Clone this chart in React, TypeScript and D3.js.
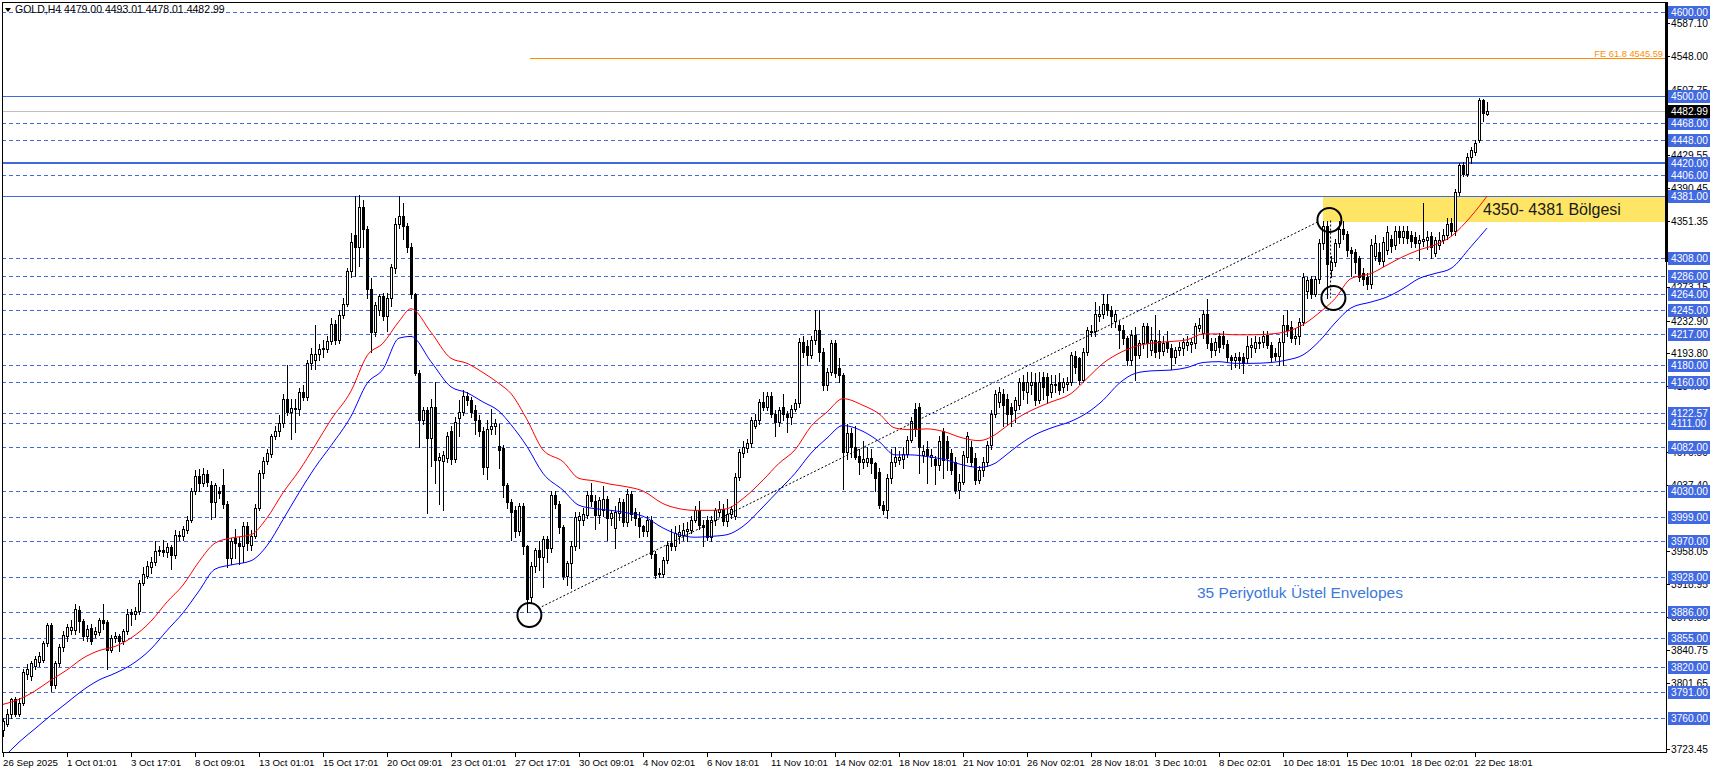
import React from "react";
import * as d3 from "d3";

// ---------- DATA ----------
const opens = [
  3745,3753,3764,3782,3765,3778,3812,3810,3822,3826,
  3829,3849,3870,3799,3825,3844,3857,3864,3864,3888,
  3875,3857,3867,3860,3862,3876,3874,3841,3855,3857,
  3852,3863,3886,3883,3887,3921,3929,3940,3946,3958,
  3960,3957,3963,3954,3978,3976,3984,3996,4030,4048,
  4039,4050,4037,4017,4030,4037,4015,3950,3974,3968,
  3965,3988,3966,3977,4010,4052,4066,4074,4095,4102,
  4111,4140,4124,4129,4128,4148,4142,4183,4186,4193,
  4199,4199,4209,4229,4210,4240,4253,4292,4335,4320,
  4368,4342,4271,4219,4245,4262,4238,4260,4295,4348,
  4357,4346,4320,4264,4171,4115,4126,4093,4130,4067,
  4066,4069,4102,4068,4117,4124,4143,4138,4126,4115,
  4102,4059,4104,4108,4084,4081,4037,4017,4007,3982,
  4012,3964,3904,3941,3960,3952,3973,3962,4025,4015,
  3987,3929,3944,3964,3995,3996,4002,4025,4018,4001,
  4008,4020,3998,3986,4004,4017,3993,4027,4005,3998,
  3988,3982,3995,3955,3932,3931,3948,3968,3965,3976,
  3978,3982,3984,3996,4008,3990,3995,3975,3995,4005,
  4009,3994,4003,4000,4047,4075,4081,4087,4108,4115,
  4136,4130,4143,4122,4112,4130,4122,4118,4128,4135,
  4208,4203,4192,4210,4222,4196,4156,4172,4206,4176,
  4168,4077,4099,4083,4072,4065,4065,4069,4063,4053,
  4013,4007,4045,4065,4067,4068,4074,4091,4128,4130,
  4073,4080,4071,4068,4061,4101,4089,4075,4065,4031,
  4041,4071,4083,4069,4043,4055,4065,4085,4122,4136,
  4146,4140,4130,4126,4132,4160,4148,4156,4160,4138,
  4166,4166,4148,4156,4160,4154,4157,4160,4191,4188,
  4162,4196,4220,4220,4238,4241,4253,4245,4233,4228,
  4222,4212,4186,4216,4192,4206,4226,4198,4210,4209,
  4197,4207,4200,4190,4198,4200,4204,4205,4206,4224,
  4218,4241,4206,4198,4215,4215,4205,4190,4186,4190,
  4190,4188,4201,4200,4207,4208,4216,4204,4194,4191,
  4207,4228,4225,4212,4215,4231,4268,4283,4265,4282,
  4325,4345,4293,4303,4325,4342,4336,4317,4315,4307,
  4289,4285,4277,4310,4315,4304,4317,4330,4323,4339,
  4333,4339,4335,4333,4325,4328,4329,4334,4313,4323,
  4329,4335,4349,4339,4386,4418,4408,4428,4434,4448,
  4495,4479.00,
];
const highs = [
  3760,3770,3784,3785,3784,3818,3824,3828,3834,3838,
  3852,3873,3873,3828,3848,3863,3872,3876,3896,3893,
  3878,3870,3872,3868,3879,3896,3876,3858,3862,3860,
  3866,3890,3890,3892,3924,3940,3947,3952,3970,3964,
  3972,3968,3966,3984,3982,3988,4000,4034,4055,4056,
  4058,4055,4042,4040,4035,4056,4018,3974,3985,3975,
  3993,3993,3984,4014,4055,4070,4080,4098,4108,4120,
  4145,4180,4140,4140,4153,4156,4186,4200,4228,4205,
  4210,4214,4236,4234,4245,4260,4296,4337,4381,4382,
  4376,4346,4284,4255,4265,4266,4266,4300,4355,4381,
  4373,4349,4325,4266,4174,4130,4130,4140,4160,4075,
  4078,4100,4108,4118,4138,4150,4148,4142,4132,4120,
  4106,4115,4128,4116,4110,4085,4040,4020,4012,4016,
  4016,3966,3945,3962,3970,3977,3977,4030,4030,4018,
  3990,3947,3970,4005,4005,4010,4030,4040,4025,4023,
  4036,4024,4008,4012,4022,4020,4032,4030,4010,4005,
  3990,4000,4000,3958,3938,3952,3970,3985,3988,3990,
  3992,3993,4000,4012,4018,3995,4000,4000,4010,4018,
  4015,4020,4012,4052,4080,4090,4092,4118,4122,4140,
  4148,4148,4148,4126,4130,4146,4125,4132,4140,4212,
  4215,4210,4215,4245,4245,4200,4176,4210,4210,4188,
  4170,4110,4105,4108,4080,4090,4083,4080,4065,4058,
  4018,4050,4080,4082,4078,4082,4095,4118,4135,4135,
  4085,4090,4080,4072,4095,4105,4095,4080,4070,4050,
  4078,4100,4090,4075,4060,4070,4090,4126,4150,4154,
  4152,4146,4135,4142,4165,4168,4172,4172,4170,4172,
  4172,4170,4168,4168,4170,4165,4166,4196,4197,4190,
  4200,4225,4228,4255,4250,4265,4265,4250,4246,4232,
  4228,4215,4222,4225,4210,4230,4230,4225,4240,4222,
  4215,4220,4205,4202,4208,4212,4214,4212,4230,4236,
  4245,4259,4212,4212,4218,4220,4210,4192,4194,4195,
  4194,4215,4212,4215,4213,4220,4220,4208,4200,4212,
  4240,4245,4232,4224,4236,4290,4285,4286,4286,4330,
  4352,4352,4310,4330,4352,4352,4340,4320,4318,4310,
  4295,4290,4330,4335,4325,4332,4345,4335,4345,4345,
  4345,4345,4340,4338,4335,4373,4340,4338,4332,4338,
  4342,4355,4355,4390,4420,4422,4433,4440,4448,4498,
  4497,4493.01,
];
const lows = [
  3738,3750,3760,3762,3762,3775,3806,3805,3818,3822,
  3826,3846,3792,3796,3822,3840,3852,3860,3860,3862,
  3853,3852,3848,3856,3858,3866,3818,3838,3850,3840,
  3848,3860,3870,3878,3884,3918,3926,3932,3942,3954,
  3953,3952,3937,3950,3972,3972,3980,3993,4026,4030,
  4036,4036,3997,3999,4022,4010,3940,3943,3950,3943,
  3946,3960,3960,3974,4007,4045,4062,4070,4092,4096,
  4106,4120,4092,4100,4120,4138,4138,4175,4175,4186,
  4190,4195,4205,4205,4206,4236,4250,4285,4286,4298,
  4320,4260,4195,4215,4240,4234,4220,4250,4290,4343,
  4330,4315,4260,4168,4082,4110,4004,4060,4040,4015,
  4008,4065,4062,4064,4095,4120,4132,4118,4098,4096,
  4050,4044,4098,4098,4057,4023,4010,3972,3975,3978,
  3955,3886,3898,3934,3936,3916,3945,3957,4010,3980,
  3925,3918,3915,3960,3962,3990,3998,4012,3985,3992,
  4000,3972,3990,3962,3996,3988,3988,3995,3990,3975,
  3976,3977,3950,3927,3928,3928,3944,3960,3960,3968,
  3972,3970,3980,3993,3985,3965,3972,3971,3990,4000,
  3990,3988,3998,3997,4043,4070,4077,4082,4105,4110,
  4126,4126,4118,4096,4108,4115,4100,4110,4125,4130,
  4190,4180,4188,4205,4185,4150,4150,4168,4166,4160,
  4032,4068,4070,4068,4050,4058,4060,4052,4030,4010,
  4003,3998,4040,4060,4062,4058,4070,4088,4095,4051,
  4065,4040,4060,4038,4055,4045,4055,4050,4028,4022,
  4038,4065,4060,4038,4040,4048,4060,4080,4118,4130,
  4108,4110,4108,4112,4128,4140,4135,4145,4132,4135,
  4140,4135,4142,4148,4145,4148,4150,4156,4170,4158,
  4160,4192,4215,4215,4232,4236,4240,4225,4225,4200,
  4205,4180,4180,4162,4188,4200,4190,4192,4190,4188,
  4192,4195,4175,4182,4192,4192,4198,4195,4200,4220,
  4212,4200,4190,4192,4195,4200,4185,4175,4178,4176,
  4170,4182,4190,4195,4200,4202,4200,4185,4186,4180,
  4180,4215,4208,4205,4205,4228,4260,4260,4262,4278,
  4318,4260,4285,4298,4320,4330,4310,4286,4290,4280,
  4275,4270,4272,4305,4300,4298,4312,4315,4318,4325,
  4325,4325,4320,4320,4305,4322,4318,4308,4310,4318,
  4325,4330,4335,4335,4383,4405,4405,4420,4430,4445,
  4470,4478.01,
];
const closes = [
  3756,3764,3782,3765,3778,3815,3818,3825,3830,3834,
  3849,3870,3799,3825,3844,3859,3868,3868,3890,3875,
  3857,3866,3852,3863,3876,3873,3841,3855,3857,3852,
  3863,3884,3883,3887,3921,3931,3941,3946,3958,3960,
  3957,3963,3954,3978,3976,3985,3996,4030,4048,4039,
  4050,4041,4017,4037,4028,4015,3950,3970,3968,3965,
  3988,3968,3977,4010,4052,4066,4075,4095,4102,4111,
  4140,4124,4129,4128,4148,4142,4183,4193,4193,4199,
  4200,4209,4229,4210,4240,4253,4292,4326,4320,4368,
  4342,4271,4219,4251,4262,4238,4260,4297,4348,4357,
  4346,4320,4264,4171,4115,4126,4093,4130,4067,4070,
  4073,4095,4068,4112,4124,4143,4138,4124,4115,4102,
  4059,4104,4108,4111,4079,4037,4017,4005,3982,4012,
  3964,3902,3941,3960,3952,3973,3962,4025,4015,3987,
  3929,3944,3964,3999,4000,4003,4025,4018,4001,4019,
  4020,3998,4004,4005,4017,3993,4027,4003,3998,3988,
  3982,3995,3955,3930,3931,3948,3966,3965,3980,3981,
  3983,3985,3996,4008,3989,3987,3975,3995,4007,4009,
  3994,4003,4009,4047,4076,4083,4087,4115,4115,4136,
  4130,4143,4122,4112,4126,4122,4118,4128,4135,4208,
  4196,4192,4210,4222,4196,4156,4172,4206,4170,4168,
  4077,4099,4083,4071,4065,4068,4069,4063,4045,4013,
  4007,4045,4065,4071,4071,4074,4091,4113,4104,4083,
  4078,4073,4073,4061,4089,4067,4069,4055,4031,4041,
  4073,4095,4065,4043,4055,4065,4085,4122,4146,4148,
  4132,4122,4122,4138,4160,4150,4160,4160,4138,4160,
  4154,4144,4158,4158,4150,4160,4160,4192,4178,4162,
  4196,4222,4221,4241,4241,4253,4245,4238,4241,4222,
  4212,4186,4216,4192,4206,4226,4206,4210,4196,4197,
  4206,4200,4190,4198,4202,4208,4208,4207,4226,4228,
  4241,4206,4198,4208,4202,4205,4190,4186,4190,4186,
  4182,4203,4204,4208,4208,4215,4204,4190,4191,4207,
  4228,4222,4212,4215,4231,4285,4281,4265,4282,4325,
  4345,4300,4303,4325,4342,4336,4317,4313,4303,4285,
  4283,4277,4323,4325,4304,4327,4338,4322,4339,4333,
  4339,4331,4328,4325,4329,4330,4332,4321,4329,4329,
  4335,4348,4339,4386,4418,4408,4428,4436,4444,4495,
  4480,4482.99,
];

const envBars = [0,4,8,12,16,20,24,28,32,37,41,45,49,53,57,62,66,70,74,78,82,87,91,95,99,102,107,112,116,120,124,127,131,135,140,144,148,152,156,160,165,169,173,177,181,185,190,194,198,202,206,210,215,219,223,227,231,235,240,244,248,250,254,258,262,267,271,275,279,283,287,292,296,300,304,308,312,317,321,325,329,333,337,342,346,350,354,358,362,367,371];
const upperEnv = [3776,3782,3792,3805,3817,3831,3840,3845,3855,3875,3898,3918,3946,3968,3974,3978,3998,4028,4054,4084,4115,4149,4191,4206,4232,4247,4219,4188,4182,4171,4158,4146,4115,4079,4065,4045,4042,4038,4035,4030,4015,4009,4007,4007,4009,4021,4043,4063,4079,4107,4124,4140,4132,4122,4105,4103,4104,4101,4093,4090,4097,4104,4118,4128,4136,4146,4164,4182,4194,4202,4206,4208,4210,4217,4217,4216,4216,4217,4220,4228,4242,4259,4283,4289,4299,4309,4317,4323,4333,4357,4381];
const lowerEnv = [3712,3731,3747,3763,3778,3793,3805,3813,3823,3842,3864,3885,3911,3937,3942,3947,3965,3996,4028,4058,4084,4119,4158,4175,4212,4214,4184,4154,4147,4136,4125,4109,4083,4051,4031,4013,4009,4007,4004,4000,3986,3978,3975,3976,3978,3988,4011,4031,4051,4075,4093,4108,4101,4089,4073,4073,4071,4068,4061,4058,4063,4070,4085,4097,4105,4113,4123,4138,4158,4170,4173,4174,4177,4183,4184,4182,4182,4183,4186,4192,4208,4230,4248,4255,4261,4271,4283,4289,4295,4321,4343];

const timeLabels = ["26 Sep 2025","1 Oct 01:01","3 Oct 17:01","8 Oct 09:01","13 Oct 01:01","15 Oct 17:01","20 Oct 09:01","23 Oct 01:01","27 Oct 17:01","30 Oct 09:01","4 Nov 02:01","6 Nov 18:01","11 Nov 10:01","14 Nov 02:01","18 Nov 18:01","21 Nov 10:01","26 Nov 02:01","28 Nov 18:01","3 Dec 10:01","8 Dec 02:01","10 Dec 18:01","15 Dec 10:01","18 Dec 02:01","22 Dec 18:01"];
const barsPerTimeLabel = 16;

// automatic price-scale labels that peek out from behind the level labels
const priceTicks = [4587.10,4548.00,4507.75,4429.55,4390.45,4351.35,4273.15,4232.90,4193.80,4154.70,4076.50,4037.40,3958.05,3918.95,3879.85,3840.75,3801.65,3723.45];

const dashedLevels = [4600,4468,4448,4406,4308,4286,4264,4245,4217,4180,4160,4122.57,4111,4082,4030,3999,3970,3928,3886,3855,3820,3791,3760];
const solidLevels = [4500,4381];
const thickLevels = [4420];
const markedLevels = [4600,4500,4468,4448,4420,4406,4381,4308,4286,4264,4245,4217,4180,4160,4122.57,4111,4082,4030,3999,3970,3928,3886,3855,3820,3791,3760];
const lastPrice = 4482.99;

const feLevel = 4545.59;
const feStartBar = 131.75;
const zoneLow = 4350;
const zoneHigh = 4381;
const zoneStartBar = 330;
const trendStart = [134.7, 3892.3];
const trendEnd = [328.8, 4350.6];
const swingLeg = [331.9, 4352, 4260];
const circleMarks = [[131.6, 3882.4], [331.6, 4352.7], [332.6, 4259.8]];

const titleText = "GOLD,H4  4479.00 4493.01 4478.01 4482.99";

export default function App() {
  const W = 1712, H = 773;
  const L = 2, R = 1666, T = 2, B = 752;
  const x = d3.scaleLinear().domain([0, closes.length - 1]).range([3, 1487]);
  const y = d3.scaleLinear().domain([3719.3, 4614.57]).range([B, 0]);
  const sy = (p: number) => Math.round(y(p)) + 0.5;
  const font = "'Liberation Sans', Arial, sans-serif";
  const blue = "#4169e1";
  const priceFs = 10.2;
  const timeFs = 9.7;

  const bandLine = d3.line<number>().x((_, i) => x(envBars[i])).y((d) => y(d)).curve(d3.curveMonotoneX);

  return (
    <svg width={W} height={H} style={{ position: "absolute", left: 0, top: 0, background: "#fff", display: "block" }} fontFamily={font}>
      <defs>
        <clipPath id="plot"><rect x={L} y={T} width={R - L} height={B - T} /></clipPath>
      </defs>
      <rect x={0} y={0} width={W} height={H} fill="#fff" />
      <g clipPath="url(#plot)">
        {/* zone */}
        <rect x={Math.round(x(zoneStartBar))} y={Math.round(y(zoneHigh))} width={R - Math.round(x(zoneStartBar))} height={Math.round(y(zoneLow)) - Math.round(y(zoneHigh))} fill="#ffe566" />
        {/* levels */}
        <g shapeRendering="crispEdges">
          {dashedLevels.map((v) => (
            <line key={"d" + v} x1={L} x2={R} y1={sy(v)} y2={sy(v)} stroke={blue} strokeDasharray="4,3" />
          ))}
          {solidLevels.map((v) => (
            <line key={"s" + v} x1={L} x2={R} y1={sy(v)} y2={sy(v)} stroke={blue} />
          ))}
          {thickLevels.map((v) => (
            <line key={"t" + v} x1={L} x2={R} y1={Math.round(y(v))} y2={Math.round(y(v))} stroke={blue} strokeWidth={2} />
          ))}
          <line x1={L} x2={R} y1={sy(lastPrice)} y2={sy(lastPrice)} stroke="#c0c0c0" />
          <line x1={x(feStartBar)} x2={R} y1={sy(feLevel)} y2={sy(feLevel)} stroke="#ff8c00" />
        </g>
        {/* candles */}
        <g shapeRendering="crispEdges">
          {closes.map((c, i) => {
            const o = opens[i], h = highs[i], l = lows[i];
            const cx = Math.round(x(i));
            const yH = Math.round(y(h)), yL = Math.round(y(l));
            const yTop = Math.round(y(Math.max(o, c))), yBot = Math.round(y(Math.min(o, c)));
            const up = c >= o;
            return (
              <g key={i}>
                <line x1={cx + 0.5} x2={cx + 0.5} y1={yH} y2={yL + 1} stroke="#000" />
                {up ? (
                  <rect x={cx - 0.5} y={yTop + 0.5} width={2} height={Math.max(yBot - yTop, 1)} fill="#fff" stroke="#000" />
                ) : (
                  <rect x={cx - 1} y={yTop} width={3} height={Math.max(yBot - yTop, 1) + 1} fill="#000" />
                )}
              </g>
            );
          })}
        </g>
        {/* envelopes */}
        <path d={bandLine(upperEnv) || ""} fill="none" stroke="#ff0000" strokeWidth={1} />
        <path d={bandLine(lowerEnv) || ""} fill="none" stroke="#0000ff" strokeWidth={1} />
        {/* fibo expansion legs */}
        <line x1={x(trendStart[0])} y1={y(trendStart[1])} x2={x(trendEnd[0])} y2={y(trendEnd[1])} stroke="#000" strokeDasharray="2,2" />
        <line x1={x(swingLeg[0])} y1={y(swingLeg[1])} x2={x(swingLeg[0])} y2={y(swingLeg[2])} stroke="#000" strokeDasharray="2,2" />
        {circleMarks.map((c, i) => (
          <circle key={i} cx={x(c[0])} cy={y(c[1])} r={12} fill="none" stroke="#000" strokeWidth={2} />
        ))}
        {/* texts */}
        <text x={1483} y={215} fontSize={16} fill="#1a1a1a">4350- 4381 Bölgesi</text>
        <text x={1197} y={598} fontSize={15.5} fill="#3c78d8">35 Periyotluk Üstel Envelopes</text>
        <text x={R - 3} y={sy(feLevel) - 2} fontSize={9.3} fill="#ff8c00" textAnchor="end">FE 61.8 4545.59</text>
        <path d="M5,8 L11,8 L8,12 Z" fill="#000" />
        <text x={15} y={13} fontSize={10.5} fill="#000">{titleText}</text>
      </g>

      {/* frame */}
      <g shapeRendering="crispEdges">
        <rect x={L + 0.5} y={T + 0.5} width={R - L} height={B - T} fill="none" stroke="#000" />
        <rect x={R - 1} y={T} width={3} height={262 - T} fill="#000" />
      </g>

      {/* right axis */}
      <g fontSize={priceFs}>
        {priceTicks.map((v) => (
          <g key={"pt" + v}>
            <line x1={R} x2={R + 4} y1={sy(v)} y2={sy(v)} stroke="#000" shapeRendering="crispEdges" />
            <text x={1671} y={Math.round(y(v)) + 4} fill="#000">{v.toFixed(2)}</text>
          </g>
        ))}
        {markedLevels.map((v) => (
          <g key={"ml" + v}>
            <rect x={1668} y={Math.round(y(v)) - 6} width={42} height={13} fill={blue} />
            <text x={1671} y={Math.round(y(v)) + 4} fill="#fff">{v.toFixed(2)}</text>
          </g>
        ))}
        <rect x={1668} y={Math.round(y(lastPrice)) - 6} width={42} height={13} fill="#000" />
        <text x={1671} y={Math.round(y(lastPrice)) + 4} fill="#fff">{lastPrice.toFixed(2)}</text>
      </g>

      {/* time axis */}
      <g fontSize={timeFs}>
        {timeLabels.map((t, k) => {
          const tx = Math.round(x(k * barsPerTimeLabel));
          return (
            <g key={t}>
              <line x1={tx + 0.5} x2={tx + 0.5} y1={B} y2={B + 5} stroke="#000" shapeRendering="crispEdges" />
              <text x={tx} y={766} fill="#000">{t}</text>
            </g>
          );
        })}
      </g>
    </svg>
  );
}
